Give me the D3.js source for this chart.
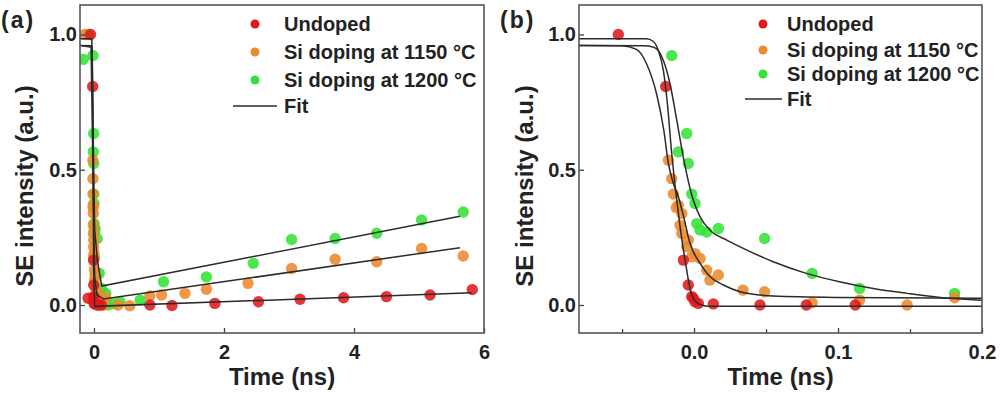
<!doctype html>
<html>
  <head>
    <title>SE intensity decay</title>
    <script src="https://cdn.jsdelivr.net/npm/d3@7"></script>
    <style>
    body { margin: 0; background: #fff; }
    text { font-family: "Liberation Sans", Arial, sans-serif; font-weight: bold; fill: #222; }
    .tick-label { font-size: 20px; }
    .axis-title { font-size: 24px; }
    .panel-label { font-size: 23px; letter-spacing: 2px; }
    .legend-text { font-size: 20px; }
    </style>
  </head>
  <body>
    <script>
      // ---- data (time in ns, intensity in a.u.) ----
      var seriesNames = ["Undoped", "Si doping at 1150 \u00B0C", "Si doping at 1200 \u00B0C"];
      var legendFit = "Fit";

      var xTicksA = [0, 2, 4, 6];
      var xTicksB = [0.0, 0.1, 0.2];
      var xMinorB = [-0.05, 0.05, 0.15];
      var yTicks = [0.0, 0.5, 1.0];

      var undopedPts = [[-0.09, 0.025], [-0.0526, 1.0], [-0.0197, 0.808], [-0.0074, 0.166], [-0.004, 0.074],
        [-0.0016, 0.031], [-0.0005, 0.025], [0.0007, 0.012], [0.003, 0.006], [0.0134, 0.004], [0.0458, 0.0],
        [0.078, 0.0], [0.112, 0.0], [0.86, 0.0], [1.20, -0.002], [1.86, 0.006], [2.53, 0.012], [3.17, 0.021],
        [3.84, 0.027], [4.50, 0.031], [5.17, 0.037], [5.82, 0.057]];

      var si1150Pts = [[-0.14, 1.0], [-0.0178, 0.535], [-0.0155, 0.467], [-0.0144, 0.41], [-0.0123, 0.36],
        [-0.0109, 0.369], [-0.0097, 0.295], [-0.0085, 0.338], [-0.0085, 0.264], [-0.0051, 0.215], [-0.004, 0.24],
        [-0.0016, 0.178], [0.0007, 0.19], [0.0042, 0.172], [0.0088, 0.129], [0.011, 0.092], [0.0169, 0.111],
        [0.034, 0.055], [0.049, 0.049], [0.082, 0.008], [0.115, 0.018], [0.148, 0.0], [0.181, 0.027],
        [0.37, 0.0], [0.55, -0.003], [0.86, 0.033], [1.04, 0.037], [1.40, 0.043], [1.73, 0.058], [2.37, 0.08],
        [3.04, 0.135], [3.71, 0.169], [4.35, 0.16], [5.04, 0.209], [5.68, 0.181]];

      var si1200Pts = [[-0.165, 0.908], [-0.085, 1.0], [-0.0155, 0.922], [-0.0109, 0.566], [-0.0051, 0.634],
        [-0.004, 0.523], [-0.0016, 0.41], [0.0007, 0.375], [0.0019, 0.301], [0.0042, 0.277], [0.0088, 0.27],
        [0.0169, 0.283], [0.049, 0.246], [0.082, 0.117], [0.115, 0.061], [0.181, 0.043], [0.22, 0.0],
        [0.30, 0.005], [0.40, 0.012], [0.71, 0.018], [1.07, 0.086], [1.73, 0.104], [2.45, 0.154], [3.04, 0.242],
        [3.71, 0.246], [4.35, 0.265], [5.04, 0.314], [5.68, 0.344]];

      // fit curves, panel (a) full range
      var fitUndopedA = [[-0.215, 0.984], [-0.033, 0.984], [-0.0185, 0.744], [-0.0051, 0.129], [0.011, -0.005], [5.81, 0.045]];
      var fit1150A = [[-0.215, 0.959], [-0.045, 0.958], [-0.0178, 0.523], [0.011, 0.105], [0.046, 0.037], [0.15, 0.022], [5.63, 0.212]];
      var fit1200A = [[-0.215, 0.959], [-0.028, 0.953], [-0.0074, 0.545], [0.011, 0.277], [0.055, 0.16], [0.12, 0.07], [5.63, 0.328]];

      // fit curves, panel (b) zoom on the first 0.2 ns
      var fitUndopedB = [[-0.08, 0.984], [-0.033, 0.984], [-0.0285, 0.975], [-0.0248, 0.941], [-0.0213, 0.867],
        [-0.0185, 0.744], [-0.0155, 0.56], [-0.0125, 0.41], [-0.0097, 0.289], [-0.0051, 0.129], [-0.0028, 0.06],
        [0.0, 0.02], [0.0042, 0.002], [0.011, -0.005], [0.2, -0.005]];
      var fit1150B = [[-0.08, 0.959], [-0.05, 0.958], [-0.04, 0.945], [-0.033, 0.892], [-0.026, 0.78],
        [-0.021, 0.646], [-0.0178, 0.523], [-0.0144, 0.45], [-0.0109, 0.4], [-0.0074, 0.33], [-0.0028, 0.228],
        [0.0042, 0.154], [0.011, 0.105], [0.0204, 0.074], [0.032, 0.049], [0.046, 0.037], [0.055, 0.033],
        [0.101, 0.028], [0.2, 0.025]];
      var fit1200B = [[-0.08, 0.959], [-0.035, 0.958], [-0.028, 0.953], [-0.0213, 0.904], [-0.0167, 0.818],
        [-0.012, 0.683], [-0.0074, 0.545], [-0.0005, 0.387], [0.0042, 0.326], [0.011, 0.277], [0.0227, 0.24],
        [0.032, 0.215], [0.055, 0.16], [0.078, 0.117], [0.101, 0.086], [0.1245, 0.061], [0.148, 0.043],
        [0.171, 0.028], [0.2, 0.018]];

      // ---- drawing ----
      var colors = ["#e0191c", "#ec8a2e", "#33e236"];
      var w_svg = 1000, h_svg = 397;

      var svg = d3.select("body").append("svg")
                  .attr("width", w_svg)
                  .attr("height", h_svg);

      var yScale = d3.scaleLinear().domain([-0.1035, 1.109]).range([333, 5]);

      drawPanel({
        id: "a", label: "(a)", left: 80, right: 484, domain: [-0.215, 6],
        ticks: xTicksA, minor: [], fmt: d3.format("d"),
        fits: [fitUndopedA, fit1150A, fit1200A], curve: d3.curveLinear,
        titleX: 25, labelX: 1,
        legend: {marker: 255, text: 284, line: [233, 277], rows: [24, 52, 80, 106]}
      });

      drawPanel({
        id: "b", label: "(b)", left: 579, right: 982, domain: [-0.0799, 0.2],
        ticks: xTicksB, minor: xMinorB, fmt: d3.format(".1f"),
        fits: [fitUndopedB, fit1150B, fit1200B], curve: d3.curveMonotoneX,
        titleX: 525, labelX: 500,
        legend: {marker: 763, text: 787, line: [745, 782], rows: [24, 50, 74, 99]}
      });

      function drawPanel(cfg) {
        var x = d3.scaleLinear().domain(cfg.domain).range([cfg.left, cfg.right]);
        var top = 5, bottom = 333;
        var g = svg.append("g");

        g.append("clipPath").attr("id", "clip-" + cfg.id)
          .append("rect")
          .attr("x", cfg.left).attr("y", top)
          .attr("width", cfg.right - cfg.left).attr("height", bottom - top);

        var plot = g.append("g").attr("clip-path", "url(#clip-" + cfg.id + ")");

        // scatter points, undoped on top
        var sets = [si1200Pts, si1150Pts, undopedPts];
        var setColors = [colors[2], colors[1], colors[0]];
        sets.forEach(function(pts, k) {
          plot.append("g").selectAll("circle")
            .data(pts)
            .enter().append("circle")
            .attr("cx", function(d) { return x(d[0]); })
            .attr("cy", function(d) { return yScale(d[1]); })
            .attr("r", 5.7)
            .attr("fill", setColors[k])
            .attr("fill-opacity", 0.88);
        });

        // fit lines
        var line = d3.line()
          .x(function(d) { return x(d[0]); })
          .y(function(d) { return yScale(d[1]); })
          .curve(cfg.curve);
        cfg.fits.forEach(function(f) {
          plot.append("path")
            .attr("d", line(f))
            .attr("fill", "none")
            .attr("stroke", "#2b2b2b")
            .attr("stroke-width", 1.5);
        });

        // axes with inward ticks
        var xAxis = d3.axisBottom(x).tickValues(cfg.ticks).tickFormat(cfg.fmt).tickSize(-5).tickPadding(12);
        var gx = g.append("g").attr("transform", "translate(0," + bottom + ")").call(xAxis);
        if (cfg.minor.length) {
          g.append("g").attr("transform", "translate(0," + bottom + ")")
            .call(d3.axisBottom(x).tickValues(cfg.minor).tickFormat("").tickSize(-4))
            .select(".domain").remove();
        }
        var yAxis = d3.axisLeft(yScale).tickValues(yTicks).tickFormat(d3.format(".1f")).tickSize(-5).tickPadding(3);
        var gy = g.append("g").attr("transform", "translate(" + cfg.left + ",0)").call(yAxis);

        [gx, gy].forEach(function(a) {
          a.select(".domain").remove();
          a.selectAll(".tick text").attr("class", "tick-label").attr("fill", "#222").style("font-size", "20px");
        });
        g.selectAll(".tick line").attr("stroke", "#444").attr("stroke-width", 1.3);

        // frame
        g.append("rect")
          .attr("x", cfg.left).attr("y", top)
          .attr("width", cfg.right - cfg.left).attr("height", bottom - top)
          .attr("fill", "none").attr("stroke", "#555").attr("stroke-width", 1.6);

        // titles
        g.append("text").attr("class", "axis-title")
          .attr("x", (cfg.left + cfg.right) / 2).attr("y", 385)
          .attr("text-anchor", "middle").text("Time (ns)");
        g.append("text").attr("class", "axis-title")
          .attr("transform", "translate(" + (cfg.titleX + 8) + "," + 186 + ") rotate(-90)")
          .attr("text-anchor", "middle").text("SE intensity (a.u.)");
        g.append("text").attr("class", "panel-label")
          .attr("x", cfg.labelX).attr("y", 28).text(cfg.label);

        // legend
        var lg = cfg.legend;
        seriesNames.forEach(function(name, i) {
          g.append("circle").attr("cx", lg.marker).attr("cy", lg.rows[i]).attr("r", 4.5)
            .attr("fill", colors[i]);
          g.append("text").attr("class", "legend-text")
            .attr("x", lg.text).attr("y", lg.rows[i]).attr("dy", "0.35em").text(name);
        });
        g.append("line").attr("x1", lg.line[0]).attr("x2", lg.line[1])
          .attr("y1", lg.rows[3]).attr("y2", lg.rows[3])
          .attr("stroke", "#2b2b2b").attr("stroke-width", 1.5);
        g.append("text").attr("class", "legend-text")
          .attr("x", lg.text).attr("y", lg.rows[3]).attr("dy", "0.35em").text(legendFit);
      }
    </script>
  </body>
</html>
